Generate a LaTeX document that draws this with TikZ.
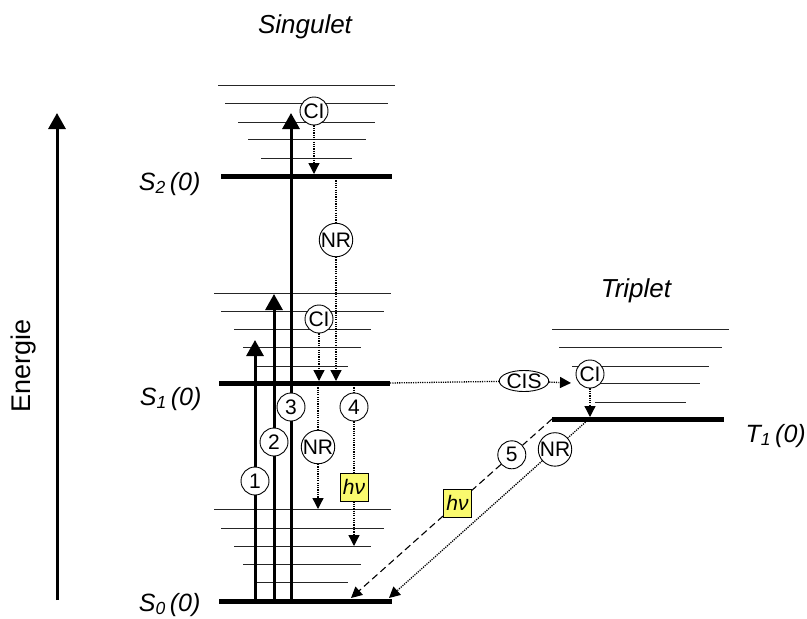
\documentclass[tikz,border=0pt]{standalone}
\usepackage{fontspec}
\setmainfont{Liberation Sans}
\usetikzlibrary{arrows.meta,shapes.geometric,calc}
\definecolor{hvyellow}{RGB}{250,250,110}
\begin{document}
\begin{tikzpicture}[x=1pt,y=-1pt,
  vib/.style={line width=1pt, draw=black!85},
  lvl/.style={line width=5pt},
  exc/.style={line width=3pt, -{Triangle[length=16pt,width=17pt]}},
  dots/.style={line width=1.3pt, dash pattern=on 1.2pt off 1.1pt},
  dotarrow/.style={dots, -{Triangle[length=11pt,width=11pt]}},
  dasharrow/.style={line width=1.1pt, dash pattern=on 7pt off 4pt, -{Triangle[length=11pt,width=11pt]}},
  circ/.style={circle, draw, fill=white, line width=0.9pt, inner sep=0.5pt, minimum size=28pt, font=\fontsize{21}{23}\selectfont},
  nrc/.style={circle, draw, fill=white, line width=0.9pt, inner sep=0pt, font=\fontsize{21}{23}\selectfont},
  hv/.style={rectangle, draw, fill=hvyellow, line width=0.8pt, inner sep=1pt, minimum width=28pt, minimum height=28pt, font=\fontsize{21}{23}\selectfont\itshape},
  cis/.style={ellipse, draw, fill=white, line width=0.9pt, inner sep=0pt, font=\fontsize{21}{23}\selectfont},
  title/.style={font=\fontsize{26}{30}\selectfont\itshape},
  lbl/.style={font=\fontsize{25}{30}\selectfont\itshape}
]
\useasboundingbox (0,0) rectangle (807,619);

% vibrational levels S2
\foreach \y/\a/\b in {85/218/395,103/225/388,122/238/375,139/248/366,158/261/352}
  \draw[vib] (\a,\y) -- (\b,\y);
% S1
\foreach \y/\a/\b in {293/214/391,311/221/384,329/234/371,347/243/361,366/257/348}
  \draw[vib] (\a,\y) -- (\b,\y);
% S0
\foreach \y/\a/\b in {509/214/391,528/221/384,546/234/371,564/243/361,582/256/348}
  \draw[vib] (\a,\y) -- (\b,\y);
% T1
\foreach \y/\a/\b in {329/552/729,347/559/722,366/572/709,383/586/700,402/595/686}
  \draw[vib] (\a,\y) -- (\b,\y);

% main levels
\draw[lvl] (221,176) -- (392,176);
\draw[lvl] (219,383) -- (390,383);
\draw[lvl] (219,601) -- (392,601);
\draw[lvl] (552,419) -- (724,419);

% coordinates
\coordinate (yS2) at (0,174);
\coordinate (yS2b) at (0,178);
\coordinate (yS1) at (0,381);
\coordinate (yS1b) at (0,385);
\coordinate (yT1) at (0,417);
\coordinate (yS0v1) at (0,509);
\coordinate (yS0v3) at (0,546);
\coordinate (S1R) at (390,383);
\coordinate (cisEnd) at (571,383);
\coordinate (T1L) at (552,419);
\coordinate (T1m) at (589,419);
\coordinate (S0a) at (351,598);
\coordinate (S0b) at (389,598);
\coordinate (a1s) at (255,601);
\coordinate (a1e) at (255,340);
\coordinate (a2s) at (274,601);
\coordinate (a2e) at (274,294);
\coordinate (a3s) at (291,601);
\coordinate (a3e) at (291,113);
\coordinate (ax0) at (57,600);
\coordinate (ax1) at (57,113);

% labels
\node[title] (sing) at (305,27) {Singulet};
\node[title] (trip) at (636,291) {Triplet};
\node[font=\fontsize{27}{30}\selectfont, rotate=90] (en) at (24,366) {Energie};
\node[lbl, anchor=base east] (lS2) at (204,190) {S\textsubscript{2}\,(0)};
\node[lbl, anchor=base east] (lS1) at (205,405) {S\textsubscript{1}\,(0)};
\node[lbl, anchor=base east] (lS0) at (204,611) {S\textsubscript{0}\,(0)};
\node[lbl, anchor=base west] (lT1) at (742,442) {T\textsubscript{1}\,(0)};

% process nodes
\node[circ] (CIa) at (314,111) {CI};
\node[nrc] (NRa) at (336,240) {NR};
\node[circ] (CIb) at (319,319) {CI};
\node[circ] (n3) at (291,407) {3};
\node[circ] (n4) at (354,407) {4};
\node[circ] (n2) at (274,442) {2};
\node[nrc] (NRb) at (318,447) {NR};
\node[circ] (n1) at (255,481) {1};
\node[hv] (hva) at (354,487) {hν};
\node[cis] (cis) at (524,381) {CIS};
\node[circ] (CIc) at (590,374) {CI};
\node[circ] (n5) at ($(T1L)!0.2!(S0a)$) {5};
\node[hv] (hvb) at ($(T1L)!0.47!(S0a)$) {hν};
\node[nrc] (NRc) at ($(T1m)!0.17!(S0b)$) {NR};

% axis
\draw[exc] (ax0) -- (ax1);

% excitations
\draw[exc] (a1s) -- (n1) -- (a1e);
\draw[exc] (a2s) -- (n2) -- (a2e);
\draw[exc] (a3s) -- (n3) -- (a3e);

% relaxations
\draw[dotarrow] (CIa) -- (CIa |- yS2);
\draw[dotarrow] (NRa |- yS2b) -- (NRa) -- (NRa |- yS1);
\draw[dotarrow] (CIb) -- (CIb |- yS1);
\draw[dotarrow] (NRb |- yS1b) -- (NRb) -- (NRb |- yS0v1);
\draw[dotarrow] (n4 |- yS1b) -- (n4) -- (hva) -- (hva |- yS0v3);
\draw[dots] (S1R) -- (cis);
\draw[dotarrow] (cis) -- (cisEnd);
\draw[dotarrow] (CIc) -- (CIc |- yT1);
\draw[dasharrow] (T1L) -- (n5) -- (hvb) -- (S0a);
\draw[dotarrow] (T1m) -- (NRc) -- (S0b);
\end{tikzpicture}
\end{document}
